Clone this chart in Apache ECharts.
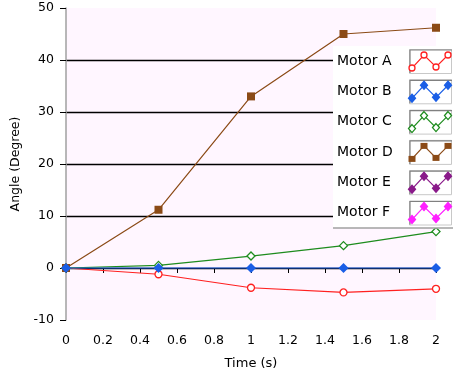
<!DOCTYPE html>
<html><head><meta charset="utf-8">
<script src="https://cdn.jsdelivr.net/npm/echarts@6/dist/echarts.min.js"></script>
<style>html,body{margin:0;padding:0;background:#fff}#c{width:453px;height:379px}</style>
</head><body><div id="c"></div>
<script>
var times = [0, 0.5, 1, 1.5, 2];
var motorA = [0, -1.2, -3.8, -4.7, -4.0];
var motorB = [0, 0, 0, 0, 0];
var motorC = [0, 0.5, 2.3, 4.3, 7.0];
var motorD = [0, 11.2, 33.0, 45.0, 46.2];
var motorE = [];
var motorF = [];
var seriesNames = ['Motor A','Motor B','Motor C','Motor D','Motor E','Motor F'];
var yTicks = [-10, 0, 10, 20, 30, 40, 50];

var colors = ['#ff2020','#1a5ee6','#1e8c1e','#8b4a16','#8a1a8a','#ff20ff'];
var symbols = ['circle','diamond','diamond','rect','diamond','diamond'];
var hollow = [true,false,true,false,false,false];
var sizes = [7, 10, 8, 8, 10, 10];
var values = [motorA,motorB,motorC,motorD,motorE,motorF];
var F = '"DejaVu Sans", Verdana, sans-serif';

function pairs(v){ return v.map(function(y,i){ return [times[i], y]; }); }

var series = values.map(function(v,i){
  return {
    name: seriesNames[i], type:'line', data: pairs(v),
    symbol: symbols[i], symbolSize: sizes[i],
    showAllSymbol:true,
    lineStyle:{color:colors[i], width:1.2},
    itemStyle:{color: hollow[i]?'#ffffff':colors[i], borderColor:colors[i], borderWidth: hollow[i]?1.3:0},
    z: [2,3,2,2,2,2][i],
    animation:false
  };
});

// legend panel built from series names/colors
var graphic = [];
var lx = 333, ly = 46, rowH = 30.3;
graphic.push({type:'rect', shape:{x:lx, y:ly, width:120, height:182}, style:{fill:'#ffffff'}, z:50});
graphic.push({type:'line', shape:{x1:lx, y1:228, x2:453, y2:228}, style:{stroke:'#a0a0a0', lineWidth:1.5}, z:51});
var zig = [[3,19],[15,6],[27,18],[39,6]];
seriesNames.forEach(function(n,i){
  var cy = ly + 15 + i*rowH;
  graphic.push({type:'text', style:{text:n, x:lx+4, y:cy, font:'14px '+F, fill:'#000', verticalAlign:'middle'}, z:52});
  var bx = 409, by = cy-12;
  graphic.push({type:'rect', shape:{x:bx+0.5, y:by+0.5, width:42, height:24}, style:{fill:'#fff', stroke:'#c8c8c8', lineWidth:1}, z:52});
  graphic.push({type:'polyline', shape:{points:[[bx+1,by+24],[bx+1,by+1],[bx+43,by+1]]}, style:{stroke:'#808080', lineWidth:1.2, fill:null}, z:53});
  var pts = zig.map(function(p){return [bx+p[0], by+p[1]];});
  pts = [[bx+2,by+21]].concat(pts).concat([[bx+42,by+4]]);
  graphic.push({type:'polyline', shape:{points:pts}, style:{stroke:colors[i], lineWidth:1.2, fill:null}, z:54});
  zig.forEach(function(p){
    var x = bx+p[0], y = by+p[1];
    var s = 3.5;
    if (symbols[i]==='circle') {
      graphic.push({type:'circle', shape:{cx:x, cy:y, r:3}, style:{fill:'#fff', stroke:colors[i], lineWidth:1.3}, z:55});
    } else if (symbols[i]==='rect') {
      graphic.push({type:'rect', shape:{x:x-3.5, y:y-3, width:7, height:6}, style:{fill:colors[i]}, z:55});
    } else {
      graphic.push({type:'polygon', shape:{points:[[x,y-s-0.5],[x+s,y],[x,y+s+0.5],[x-s,y]]}, style:{fill:hollow[i]?'#fff':colors[i], stroke:colors[i], lineWidth:1.3}, z:55});
    }
  });
});

var chart = echarts.init(document.getElementById('c'), null, {renderer:'canvas'});
chart.setOption({
  animation:false,
  backgroundColor:'#ffffff',
  grid:{left:66, right:17, top:8, bottom:59, show:true, backgroundColor:'#fff6ff', borderWidth:0},
  xAxis:{type:'value', min:0, max:2, interval:0.2, offset:5,
    name:'Time (s)', nameLocation:'middle', nameGap:32,
    nameTextStyle:{fontFamily:F, fontSize:13, color:'#000'},
    axisLine:{show:false}, axisTick:{show:true, length:5, lineStyle:{color:'#000'}},
    axisLabel:{fontFamily:F, fontSize:12.5, color:'#000', margin:9, showMinLabel:true, showMaxLabel:true},
    splitLine:{show:false}},
  yAxis:{type:'value', min:yTicks[0], max:yTicks[yTicks.length-1], interval:10,
    name:'Angle (Degree)', nameLocation:'middle', nameGap:44,
    nameTextStyle:{fontFamily:F, fontSize:12.5, color:'#000'},
    axisLine:{show:true, lineStyle:{color:'#a0a0a0', width:1.5}},
    axisTick:{show:true, length:6, lineStyle:{color:'#000'}},
    axisLabel:{fontFamily:F, fontSize:12.5, color:'#000', margin:12},
    splitLine:{show:true, showMinLine:false, showMaxLine:false, lineStyle:{color:'#000', width:1.3}}},
  series: series,
  graphic: graphic
});
</script></body></html>
